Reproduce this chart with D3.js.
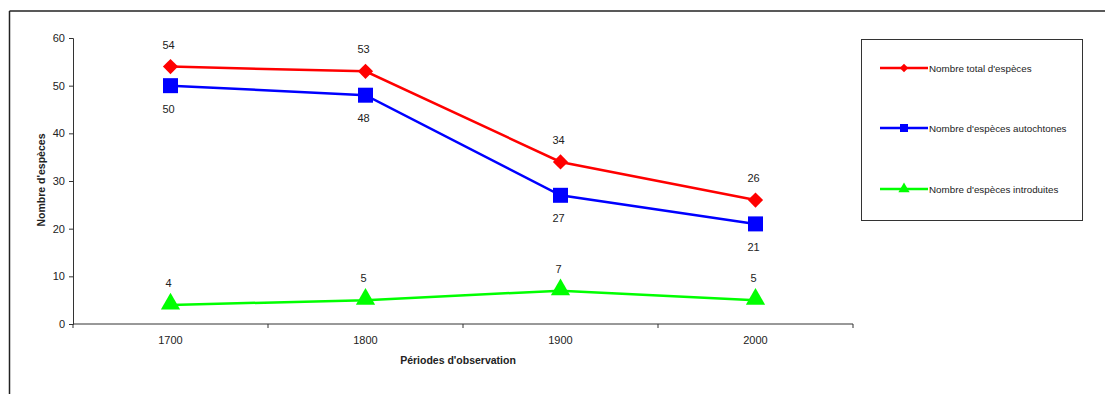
<!DOCTYPE html>
<html>
<head>
<meta charset="utf-8">
<script src="https://cdn.jsdelivr.net/npm/d3@7"></script>
<style>
  html, body { margin: 0; padding: 0; background: #fff; }
  svg { display: block; font-family: "Liberation Sans", Arial, sans-serif; }
</style>
</head>
<body>
<svg id="chart" width="1105" height="394"></svg>
<script>
// Observation periods and species counts
const periods = ["1700", "1800", "1900", "2000"];
const totalSpecies = [54, 53, 34, 26];
const nativeSpecies = [50, 48, 27, 21];
const introducedSpecies = [4, 5, 7, 5];
const yTicks = [0, 10, 20, 30, 40, 50, 60];

const seriesNames = [
  "Nombre total d'espèces",
  "Nombre d'espèces autochtones",
  "Nombre d'espèces introduites"
];

// Diamond drawn as a square turned by 45 degrees (equal width and height)
const rotatedSquare = {
  draw(context, size) {
    const r = Math.sqrt(size / 2);
    context.moveTo(0, -r);
    context.lineTo(r, 0);
    context.lineTo(0, r);
    context.lineTo(-r, 0);
    context.closePath();
  }
};

const series = [
  { name: seriesNames[0], values: totalSpecies, color: "#ff0000", symbol: rotatedSquare, size: 115, legendSize: 36, labelPos: "above", dy: 0 },
  { name: seriesNames[1], values: nativeSpecies, color: "#0000ff", symbol: d3.symbolSquare, size: 225, legendSize: 64, labelPos: "below", dy: 0 },
  { name: seriesNames[2], values: introducedSpecies, color: "#00ff00", symbol: d3.symbolTriangle, size: 160, legendSize: 55, labelPos: "above", dy: -1 }
];

const svg = d3.select("#chart");

// Frame around the chart (top and left edges)
svg.append("line").attr("x1", 9.5).attr("y1", 11).attr("x2", 1105).attr("y2", 11)
  .attr("stroke", "#222").attr("stroke-width", 1.5);
svg.append("line").attr("x1", 9.5).attr("y1", 11).attr("x2", 9.5).attr("y2", 394)
  .attr("stroke", "#222").attr("stroke-width", 1.5);

const plot = { left: 73, right: 853, top: 38, bottom: 324 };

const x = d3.scaleBand().domain(periods).range([plot.left, plot.right]).paddingInner(0).paddingOuter(0);
const y = d3.scaleLinear().domain([0, 60]).range([plot.bottom, plot.top]);

// Y axis
const yAxis = svg.append("g")
  .attr("transform", `translate(${plot.left},0)`)
  .call(d3.axisLeft(y).tickValues(yTicks).tickSize(4).tickPadding(4));
yAxis.select(".domain").attr("stroke", "#333");
yAxis.selectAll(".tick line").attr("stroke", "#333");
yAxis.selectAll("text").attr("font-size", 11).attr("fill", "#222")
  .attr("font-family", "Liberation Sans, Arial, sans-serif");

// X axis with ticks at category boundaries
const xAxisG = svg.append("g").attr("transform", `translate(0,${plot.bottom})`);
xAxisG.append("line").attr("x1", plot.left).attr("x2", plot.right)
  .attr("stroke", "#333").attr("stroke-width", 1);
const boundaries = periods.map(p => x(p)).concat([x(periods[periods.length - 1]) + x.bandwidth()]);
xAxisG.selectAll("line.tick").data(boundaries).join("line")
  .attr("class", "tick")
  .attr("x1", d => d).attr("x2", d => d).attr("y1", 0).attr("y2", 4)
  .attr("stroke", "#333");
xAxisG.selectAll("text").data(periods).join("text")
  .attr("x", d => x(d) + x.bandwidth() / 2)
  .attr("y", 20)
  .attr("text-anchor", "middle")
  .attr("font-size", 11).attr("fill", "#222")
  .text(d => d);

// Axis titles
svg.append("text")
  .attr("x", plot.left + (plot.right - plot.left) / 2 - 5)
  .attr("y", 364)
  .attr("text-anchor", "middle")
  .attr("font-size", 10.5).attr("font-weight", "bold").attr("fill", "#222")
  .text("Périodes d'observation");
svg.append("text")
  .attr("transform", "translate(45,180) rotate(-90)")
  .attr("text-anchor", "middle")
  .attr("font-size", 10.5).attr("font-weight", "bold").attr("fill", "#222")
  .text("Nombre d'espèces");

const cx = p => x(p) + x.bandwidth() / 2;
const line = d3.line().x((d, i) => cx(periods[i])).y(d => y(d));

series.forEach(s => {
  const g = svg.append("g");
  g.append("path").datum(s.values)
    .attr("d", line)
    .attr("fill", "none")
    .attr("stroke", s.color)
    .attr("stroke-width", 2.5);
  g.selectAll("path.marker").data(s.values).join("path")
    .attr("class", "marker")
    .attr("d", d3.symbol().type(s.symbol).size(s.size))
    .attr("transform", (d, i) => `translate(${cx(periods[i])},${y(d) + s.dy})`)
    .attr("fill", s.color);
  g.selectAll("text").data(s.values).join("text")
    .attr("x", (d, i) => cx(periods[i]) - 2)
    .attr("y", d => s.labelPos === "above" ? y(d) - 18 : y(d) + 27)
    .attr("text-anchor", "middle")
    .attr("font-size", 11).attr("fill", "#222")
    .text(d => d);
});

// Legend
const legend = svg.append("g");
legend.append("rect")
  .attr("x", 861.5).attr("y", 39.5).attr("width", 221).attr("height", 181)
  .attr("fill", "#fff").attr("stroke", "#333").attr("stroke-width", 1);
const legendY = [68, 128, 189];
series.forEach((s, i) => {
  const ly = legendY[i];
  legend.append("line").attr("x1", 880).attr("x2", 928).attr("y1", ly).attr("y2", ly)
    .attr("stroke", s.color).attr("stroke-width", 2.5);
  legend.append("path")
    .attr("d", d3.symbol().type(s.symbol).size(s.legendSize))
    .attr("transform", `translate(904,${ly})`)
    .attr("fill", s.color);
  legend.append("text")
    .attr("x", 929).attr("y", ly + 4)
    .attr("font-size", 9.8).attr("fill", "#222")
    .text(s.name);
});
</script>
</body>
</html>
